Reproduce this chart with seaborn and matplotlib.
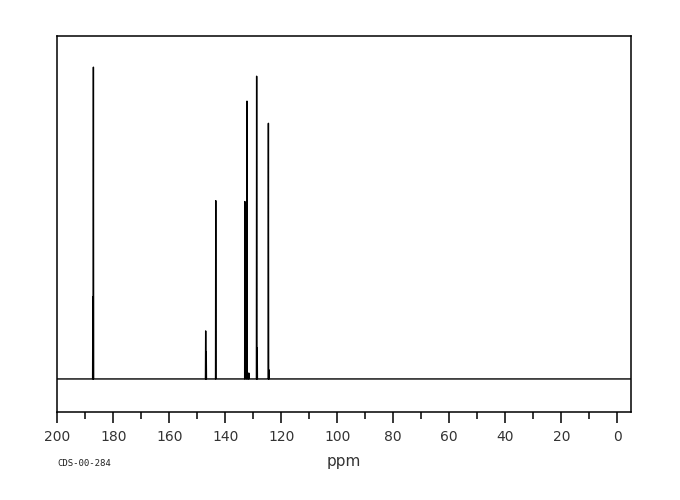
import numpy as np
import pandas as pd
import matplotlib
matplotlib.use("Agg")
import matplotlib.pyplot as plt
import seaborn as sns

# peak list (ppm, relative intensity)
peak_ppm = [187.3, 187.1, 147.0, 146.8, 143.4, 133.0, 132.25, 131.6, 128.8, 128.6, 124.6, 124.4]
peak_height = [26.4, 100.0, 15.4, 8.7, 57.2, 56.9, 89.1, 1.9, 97.1, 10.0, 82.0, 2.9]
tick_ppm = [200, 180, 160, 140, 120, 100, 80, 60, 40, 20, 0]
code_label = "CDS-00-284"

half_width = 0.08

# build the trace: flat baseline with a narrow spike at each peak
xs = [210.0]
ys = [0.0]
for p, h in sorted(zip(peak_ppm, peak_height), key=lambda t: -t[0]):
    xs += [p + half_width, p, p - half_width]
    ys += [0.0, h, 0.0]
xs.append(-10.0)
ys.append(0.0)
spec = pd.DataFrame({"ppm": xs, "intensity": ys})

sns.set_style("white")
fig = plt.figure(figsize=(6.8, 5), dpi=100)
ax = fig.add_axes([57 / 680, 88 / 500, 574 / 680, 376 / 500])

sns.lineplot(data=spec, x="ppm", y="intensity", sort=False, estimator=None,
             color="black", linewidth=1.0, ax=ax)

ax.set_xlim(200.1, -4.9)
ax.set_ylim(-10.6, 110.0)

for s in ax.spines.values():
    s.set_visible(True)
    s.set_color("black")
    s.set_linewidth(1.1)

ax.set_xticks(tick_ppm)
ax.set_xticks(list(range(190, 0, -20)), minor=True)
ax.set_xticklabels([str(t) for t in tick_ppm])
ax.tick_params(axis="x", which="major", direction="out", length=8, width=1.1,
               color="black", labelsize=10, labelcolor="#333333", pad=5, bottom=True)
ax.tick_params(axis="x", which="minor", direction="out", length=5, width=1.1,
               color="black", bottom=True)
ax.set_yticks([])
ax.set_ylabel("")
ax.set_xlabel("ppm", fontsize=11, color="#333333", labelpad=7)

fig.text(57 / 680, 1 - 463 / 500, code_label, fontsize=6.5, family="DejaVu Sans Mono",
         color="#222222", va="center", ha="left")

fig.savefig("out.png", dpi=100)
